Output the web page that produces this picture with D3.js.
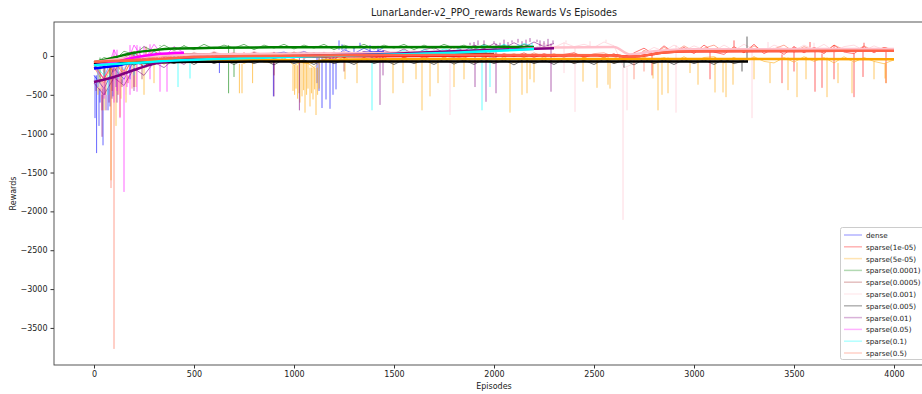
<!DOCTYPE html>
<html><head><meta charset="utf-8">
<script src="https://cdn.jsdelivr.net/npm/d3@7"></script>
<style>body{margin:0;background:#fff;overflow:hidden} text{font-family:"DejaVu Sans",sans-serif;fill:#222}</style>
</head><body><svg id="c" width="922" height="394"></svg>
<script>
// ---------- DATA ----------
const title = "LunarLander-v2_PPO_rewards Rewards Vs Episodes";
const xLabel = "Episodes";
const yLabel = "Rewards";
const xTicks = [0, 500, 1000, 1500, 2000, 2500, 3000, 3500, 4000];
const yTicks = [0, -500, -1000, -1500, -2000, -2500, -3000, -3500];
const seriesNames = ["dense", "sparse(1e-05)", "sparse(5e-05)", "sparse(0.0001)", "sparse(0.0005)", "sparse(0.001)", "sparse(0.005)", "sparse(0.01)", "sparse(0.05)", "sparse(0.1)", "sparse(0.5)"];
const rawStep = 50; // episodes between raw samples

// raw rewards sampled every 50 episodes, starting at episode 0
const denseRaw = [-250,-420,-160,-300,-60,-140,-30,-90,-10,-70, 0,-60,20,-40,30,-30,40,-20,30,50, 10,60,0,40,-20,80,30,100,40,110];
const s1e05Raw = [-120,-300,-60,-250,20,-150,10,-90,30,-60, -20,30,-40,20,-30,40,-30,20,-40,10, 30,-30,20,-20,-40,30,-10,20,-30,10, 30,-20,20,-30,10,40,-10,-30,30,0, -20,30,-10,40,-20,30,-10,20,40,-20, 20,-20,30,-60,40,100,20,130,40,110, 30,140,50,20,120,40,150,30,100,20, 120,40,110,30,140,50,30,120,40,110, 60];
const s5e05Raw = [-150,-350,-60,-220,-20,-150,-10,-110,-20,-90, -10,-80,-20,-90,-10,-100,-20,-80,-90,-20, -120,-60,-150,-20,-80,-10,-90,-20,-70,-10, -80,-10,-70,-20,-90,-10,-80,-20,-90,-10, -80,-10,-90,-20,-70,-10,-80,-30,-90,-10, -80,-10,-90,-20,-80,-10,-90,-20,-80,-10, -80,-20,-10,-90,-20,-80,-10,-70,-90,-20, -80,-10,-70,-20,-90,-10,-80,-20,-70,-100, -50];
const s1e04Raw = [-100,-20,-60,60,20,120,60,140,70,130, 80,150,90,140,100,150,80,140,100,150, 90,140,100,150,80,140,100,150,90,140, 100,150,80,140,90,150,100,140,80,150, 100,140,90,150,110];
const s5e04Raw = [-150,-80,-200,-20,40,-40,60,-20,50,-10, 40,-10,50,0,40,-20,50,0,40,-10, 50,0,40,-10,50,-20,40,0,50,-10, 40,0,50,-10,40,0,-20,50,0,40, 20];
const s1e03Raw = [-80,-200,20,-160,60,-40,100,-10,70,-20, 50,0,60,10,50,-10,60,10,50,0, 40,60,10,50,0,60,20,50,10,60, 30,50,70,20,60,30,80,40,70,90, 60,110,80,130,100,160,110,170,120,150, 110,180,130,-150,-100,40,110,60,140,70, 130,80,60,140,70,150,80,60,140,90, 70,140,80,150,60,120,140,70,130,80, 90];
const s5e03Raw = [-150,-60,-140,-50,-120,-40,-110,-50,-100,-40, -110,-40,-100,-50,-110,-45,-100,-50,-115,-40, -100,-50,-110,-40,-100,-55,-110,-40,-100,-50, -110,-45,-100,-50,-110,-40,-105,-50,-110,-40, -100,-50,-115,-40,-100,-50,-110,-40,-100,-55, -110,-40,-100,-50,-115,-40,-100,-50,-110,-45, -100,-50,-110,-40,-100,-60];
const s1e02Raw = [-350,-500,-280,-380,-160,-250,-80,-150,-40,-110, 0,-70,20,-50,30,-40,20,-30,40,-10, -30,30,-20,40,0,50,-10,60,20,70, 30,90,20,80,110,40,120,60,140,90, 160,100,170,110,180,120,160];
const s5e02Raw = [-150,-300,80,-200,140,-60,150,-20,120,40];
const s1e01Raw = [-100,-250,-30,-180,40,-120,60,-90,-10,-60, -40,10,-60,-10,10,-40,0,20,-30,10, 20,-20,30,-10,40,10,30,-10,50,20, 40,70,20,80,40,90,60,120,70,140, 90,150,100,160,120];
const s5e01Raw = [-90,-300,-40,-200,60,-100,80,-50,40,-30, 20,-20,40,-10,30,-20,40,-10,30,-20, 40,-10,30,-20,40,-10,30,-20,40,-10, 30,-20,40,-10,30,-20,40,-10,30,-20, 40,-10,30,-20,40,-10,30,-20,40,-10, 30,40,-10,-60,-30,70,30,110,50,130, 60,100,140,50,110,40,130,60,90,140, 50,120,70,40,140,80,50,130,60,110, 80];

// single-episode spikes: [episode, reward]
const denseSpikes = [[5,-800],[13,-1250],[25,-900],[30,-600],[45,-1150],[55,-500],[70,-700],[80,-650],[95,-520],[110,-400],[140,-350],[180,-300],[627,-220],[897,-520],[1115,-350],[1125,-450],[1140,-670],[1160,-560],[1180,-680],[1195,-500],[1210,-430],[1225,200],[1240,150],[1260,130],[1300,120],[1330,170],[1380,140],[1420,130]];
const s1e05Spikes = [[40,-700],[90,-450],[120,-500],[170,-350],[200,-400],[260,120],[2790,-250],[3080,-300],[3440,-350],[3500,-200],[3605,-460],[3640,-410],[3700,-300],[3800,-530],[3845,-270],[3850,170],[3960,-350],[3200,200],[3580,180]];
const s5e05Spikes = [[20,-500],[50,-700],[85,-1600],[110,-900],[135,-550],[160,-600],[210,-400],[250,-500],[300,-350],[727,-480],[740,-480],[793,-350],[995,-450],[1003,-500],[1010,-420],[1018,-550],[1025,-480],[1030,-600],[1040,-520],[1048,-440],[1055,-730],[1063,-500],[1070,-420],[1080,-650],[1088,-480],[1095,-560],[1103,-430],[1110,-760],[1118,-500],[1126,-420],[1255,-300],[1315,-350],[1495,-480],[1545,-350],[1610,-300],[1640,-700],[1680,-520],[1720,-350],[1800,-400],[1850,-300],[2080,-730],[2140,-500],[2165,-480],[2180,-300],[2200,-340],[2445,-330],[2515,-410],[2570,-370],[2580,-420],[2795,-290],[2820,-700],[2840,-500],[2870,-480],[2980,-220],[3020,-370],[3105,-470],[3145,-470],[3160,-530],[3195,-370],[3300,-300],[3380,-350],[3470,-440],[3515,-530],[3560,-300],[3665,-530],[3720,-350],[3790,-480],[3900,-300],[3955,-290],[3960,-350]];
const s1e04Spikes = [[30,-350],[80,-300],[673,-480],[700,-270],[330,130],[450,140]];
const s5e04Spikes = [[55,-500],[140,-400],[240,-300],[900,-250],[1250,-200]];
const s1e03Spikes = [[160,-500],[1780,-760],[2350,-220],[2360,200],[2405,-720],[2480,190],[2560,210],[2645,-2110],[2665,-700],[2910,-730],[3290,-800],[3370,180],[3600,170]];
const s5e03Spikes = [[50,-300],[2650,-150],[3240,-200],[3265,250]];
const s1e02Spikes = [[10,-450],[40,-1040],[60,-700],[75,-600],[90,-550],[115,-600],[200,-450],[900,-520],[1027,-700],[1430,-630],[1445,-250],[1880,170],[1900,180],[1905,-400],[1920,200],[1950,200],[1960,-590],[1975,160],[2000,190],[2010,-480],[2030,170],[2050,210],[2070,180],[2090,200],[2120,220],[2140,190],[2160,210],[2180,230],[2200,180],[2215,210],[2230,200],[2250,190],[2270,220],[2285,-460],[2295,200]];
const s5e02Spikes = [[20,-400],[50,-550],[100,-600],[115,-450],[130,-800],[150,-1750],[165,-400],[180,-500],[215,-460],[230,120],[250,130],[280,-300],[300,150],[330,-460],[365,-460],[400,110]];
const s1e01Spikes = [[20,-400],[70,-500],[120,-300],[200,-250],[420,-400],[480,-290],[1390,-700],[1940,-700],[1980,-400],[2120,150],[2150,160],[2190,170]];
const s5e01Spikes = [[30,-450],[60,-500],[85,-1700],[100,-3770],[130,-785],[190,-420],[2700,-300],[2750,-200]];

// smoothed (moving-average) curves: [episode, reward]
const denseSmooth = [[0,-160],[100,-130],[200,-80],[400,-45],[600,-20],[800,-5],[1000,10],[1200,20],[1450,50]];
const s1e05Smooth = [[0,-110],[200,-70],[400,-40],[700,-15],[1200,-5],[2000,5],[2600,8],[2660,-8],[2720,-4],[2850,44],[3000,59],[3500,64],[4000,67]];
const s5e05Smooth = [[0,-110],[200,-70],[500,-45],[1000,-55],[1060,-80],[1150,-60],[1300,-45],[2000,-40],[3000,-40],[4000,-42]];
const s1e04Smooth = [[0,-80],[100,-20],[200,40],[300,75],[400,95],[600,105],[1000,112],[2200,115]];
const s5e04Smooth = [[0,-100],[150,-40],[300,0],[500,20],[1000,25],[2000,25]];
const s1e03Smooth = [[0,-80],[200,-20],[500,20],[1500,40],[2000,70],[2300,110],[2600,115],[2680,20],[2800,60],[3000,85],[4000,90]];
const s5e03Smooth = [[0,-105],[200,-90],[500,-75],[1000,-72],[2000,-72],[3270,-70]];
const s1e02Smooth = [[0,-335],[100,-270],[200,-180],[300,-100],[400,-60],[600,-20],[1000,0],[1500,30],[1800,60],[2000,80],[2300,100]];
const s5e02Smooth = [[0,-120],[100,-80],[200,-20],[300,20],[450,40]];
const s1e01Smooth = [[0,-120],[200,-90],[400,-60],[600,-40],[1000,-10],[1500,20],[1800,40],[2000,65],[2200,90]];
const s5e01Smooth = [[0,-75],[150,-60],[300,-40],[500,-15],[800,0],[1500,10],[2000,12],[2600,10],[2660,-10],[2720,-5],[2850,45],[3000,60],[3500,65],[4000,68]];

// ---------- STYLE ----------
const seriesColors = ["#0000ff","#ff0000","#ffa500","#008000","#a52a2a","#ffc0cb","#000000","#800080","#ff00ff","#00ffff","#ff6347"];

const rawList = [denseRaw,s1e05Raw,s5e05Raw,s1e04Raw,s5e04Raw,s1e03Raw,s5e03Raw,s1e02Raw,s5e02Raw,s1e01Raw,s5e01Raw];
const spikeList = [denseSpikes,s1e05Spikes,s5e05Spikes,s1e04Spikes,s5e04Spikes,s1e03Spikes,s5e03Spikes,s1e02Spikes,s5e02Spikes,s1e01Spikes,s5e01Spikes];
const smoothList = [denseSmooth,s1e05Smooth,s5e05Smooth,s1e04Smooth,s5e04Smooth,s1e03Smooth,s5e03Smooth,s1e02Smooth,s5e02Smooth,s1e01Smooth,s5e01Smooth];
const series = seriesNames.map((n,i)=>({name:n,color:seriesColors[i],raw:rawList[i],spikes:spikeList[i],smooth:smoothList[i]}));

const L = 54, R = 934, T = 22, B = 365;
const svg = d3.select("#c");
const x = d3.scaleLinear().domain([-200, 4200]).range([L, R]);
const y = d3.scaleLinear().domain([-3977, 437]).range([B, T]);

svg.append("clipPath").attr("id","clip").append("rect").attr("x",L).attr("y",T).attr("width",R-L).attr("height",B-T);
const plot = svg.append("g").attr("clip-path","url(#clip)");

const rawLine = d3.line().x((d,i)=>x(i*rawStep)).y(d=>y(d));
series.forEach(s=>{
  plot.append("path").attr("d",rawLine(s.raw)).attr("fill","none")
    .attr("stroke",s.color).attr("stroke-opacity",0.55).attr("stroke-width",1);
  s.spikes.forEach(([e,v])=>{
    const idx = Math.min(s.raw.length-1, Math.round(e/rawStep));
    plot.append("line").attr("x1",x(e)).attr("x2",x(e)).attr("y1",y(s.raw[idx])).attr("y2",y(v))
      .attr("stroke",s.color).attr("stroke-opacity",0.6).attr("stroke-width",1);
  });
});
const smLine = d3.line().x(d=>x(d[0])).y(d=>y(d[1])).curve(d3.curveMonotoneX);
series.forEach(s=>{
  plot.append("path").attr("d",smLine(s.smooth)).attr("fill","none")
    .attr("stroke",s.color).attr("stroke-width",2.5);
});

// axes
const fmt = d3.format("d");
const xa = svg.append("g").attr("transform",`translate(0,${B})`)
  .call(d3.axisBottom(x).tickValues(xTicks).tickFormat(fmt).tickSize(3.5).tickPadding(3));
const ya = svg.append("g").attr("transform",`translate(${L},0)`)
  .call(d3.axisLeft(y).tickValues(yTicks).tickFormat(fmt).tickSize(3.5).tickPadding(3));
[xa,ya].forEach(a=>{
  a.select(".domain").remove();
  a.selectAll("line").attr("stroke","#333");
  a.selectAll("text").style("font-size","8px").style("font-family","DejaVu Sans").attr("fill","#222");
});
svg.append("rect").attr("x",L).attr("y",T).attr("width",R-L).attr("height",B-T)
  .attr("fill","none").attr("stroke","#444").attr("stroke-width",0.9);

svg.append("text").attr("x",(L+R)/2).attr("y",16).attr("text-anchor","middle")
  .style("font-size","9.6px").text(title);
svg.append("text").attr("x",(L+R)/2).attr("y",389).attr("text-anchor","middle")
  .style("font-size","8px").text(xLabel);
svg.append("text").attr("transform",`translate(16,${(T+B)/2}) rotate(-90)`).attr("text-anchor","middle")
  .style("font-size","8px").text(yLabel);

// legend
const lg = svg.append("g");
lg.append("rect").attr("x",840.5).attr("y",227.5).attr("width",100).attr("height",132).attr("rx",2)
  .attr("fill","#fff").attr("fill-opacity",0.8).attr("stroke","#ccc").attr("stroke-width",1);
series.forEach((s,i)=>{
  const yy = 235 + i*11.8;
  lg.append("line").attr("x1",844).attr("x2",862).attr("y1",yy).attr("y2",yy)
    .attr("stroke",s.color).attr("stroke-opacity",0.3).attr("stroke-width",1.5);
  lg.append("text").attr("x",866).attr("y",yy+3).style("font-size","7.2px").text(s.name);
});
</script></body></html>
